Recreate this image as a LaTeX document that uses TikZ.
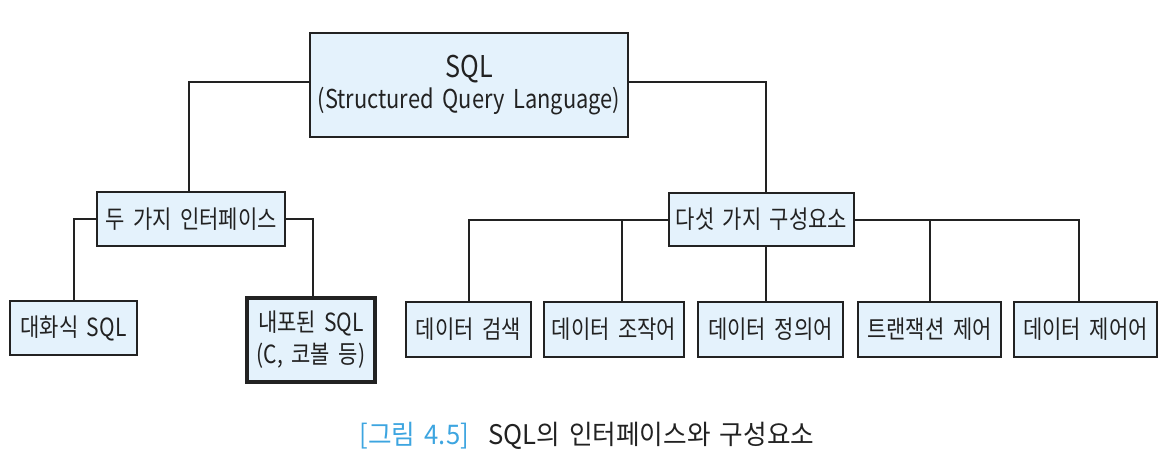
\documentclass[tikz,border=0pt]{standalone}
\usepackage{fontspec}
\setmainfont{Noto Sans CJK KR}[FakeStretch=0.84, WordSpace=1.8]
\newfontfamily\capfont{Noto Sans CJK KR}[FakeStretch=0.95, WordSpace=1.6]
\definecolor{boxfill}{HTML}{E4F2FC}
\definecolor{ink}{HTML}{222222}
\definecolor{capblue}{HTML}{3DA5E0}
\begin{document}
\begin{tikzpicture}[x=1pt,y=-1pt,
  box/.style={draw=ink, fill=boxfill, line width=2.2pt, inner sep=0pt, align=center, text=ink, font=\fontsize{25}{30}\selectfont},
  conn/.style={draw=ink, line width=2pt}]
\useasboundingbox (0,0) rectangle (1168,476);
\node[box, minimum width=318, minimum height=104] (sql) at (469,85)
  {{\fontsize{30}{33}\selectfont SQL}\\[1pt]{\fontsize{26}{29}\selectfont (Structured Query Language)}};
\node[box, minimum width=188, minimum height=54] (iface) at (191,219) {두 가지 인터페이스};
\node[box, minimum width=127, minimum height=54] (dial) at (73.5,328) {대화식 SQL};
\node[box, line width=3.4pt, minimum width=128, minimum height=84, font=\fontsize{25}{32}\selectfont] (emb) at (311,340) {내포된 SQL\\(C, 코볼 등)};
\node[box, minimum width=185, minimum height=53] (comp) at (761.5,219.5) {다섯 가지 구성요소};
\node[box, minimum width=125, minimum height=55] (b1) at (468.5,329.5) {데이터 검색};
\node[box, minimum width=140, minimum height=55] (b2) at (614,329.5) {데이터 조작어};
\node[box, minimum width=145, minimum height=55] (b3) at (770.5,329.5) {데이터 정의어};
\node[box, minimum width=143, minimum height=55] (b4) at (929.5,329.5) {트랜잭션 제어};
\node[box, minimum width=143, minimum height=55] (b5) at (1085.5,329.5) {데이터 제어어};
\coordinate (j2) at (622,219.5);
\draw[conn] ([yshift=3pt]sql.west) -| ([xshift=-2pt]iface.north);
\draw[conn] ([yshift=3pt]sql.east) -| ([xshift=4.5pt]comp.north);
\draw[conn] (iface.west) -| (dial.north);
\draw[conn] (iface.east) -| ([xshift=2pt]emb.north);
\draw[conn] (comp.west) -| (b1.north);
\draw[conn] (j2) -- (j2 |- b2.north);
\draw[conn] ([xshift=4.5pt]comp.south) -- ([xshift=4.5pt]comp.south |- b3.north);
\draw[conn] (comp.east) -| ([xshift=-6.5pt]b5.north);
\draw[conn] (comp.east -| b4.north) -- (b4.north);
\node[font=\capfont\fontsize{27}{30}\selectfont, text=ink, inner sep=0pt] (cap) at (587,436)
  {\textcolor{capblue}{[그림 4.5]}\hspace{10pt} SQL의 인터페이스와 구성요소};
\end{tikzpicture}
\end{document}
